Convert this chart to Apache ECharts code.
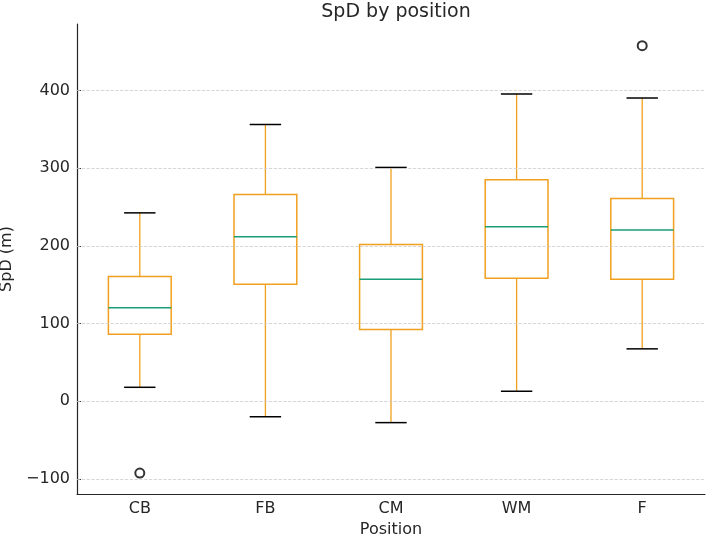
<!DOCTYPE html>
<html>
<head>
<meta charset="utf-8">
<script src="https://cdn.jsdelivr.net/npm/echarts@6/dist/echarts.min.js"></script>
<style>
  html, body { margin: 0; padding: 0; background: #fff; }
  #main { width: 709px; height: 536px; }
</style>
</head>
<body>
<div id="main"></div>
<script>
// data
var positions = ['CB', 'FB', 'CM', 'WM', 'F'];
var whiskerLow = [18, -20, -27.5, 13, 67.5];
var q1 = [86.3, 150.8, 92.4, 158.5, 157.2];
var median = [120.3, 211.7, 157.2, 224.6, 220.4];
var q3 = [160.7, 266.4, 201.9, 285.2, 261.2];
var whiskerHigh = [242.6, 356.5, 301.1, 395.6, 390.5];
var outliers = [['CB', -92.4], ['F', 457.9]];
var yTicks = [-100, 0, 100, 200, 300, 400];

var boxColor = '#F0A01E';
var medColor = '#1B9E77';
var txtColor = '#262626';

var chart = echarts.init(document.getElementById('main'));

var boxData = positions.map(function (p, i) {
  return [i, whiskerLow[i], q1[i], median[i], q3[i], whiskerHigh[i]];
});

function renderBox(params, api) {
  var i = api.value(0);
  var lo = api.coord([i, api.value(1)]);
  var b1 = api.coord([i, api.value(2)]);
  var md = api.coord([i, api.value(3)]);
  var b3 = api.coord([i, api.value(4)]);
  var hi = api.coord([i, api.value(5)]);
  var band = api.size([1, 0])[0];
  var hw = band * 0.25;   // half box width
  var cw = band * 0.125;  // half cap width
  var x = lo[0];
  return {
    type: 'group',
    children: [
      { type: 'line', shape: { x1: x, y1: b1[1], x2: x, y2: lo[1] }, style: { stroke: boxColor, lineWidth: 1.3 } },
      { type: 'line', shape: { x1: x, y1: b3[1], x2: x, y2: hi[1] }, style: { stroke: boxColor, lineWidth: 1.3 } },
      { type: 'line', shape: { x1: x - cw, y1: lo[1], x2: x + cw, y2: lo[1] }, style: { stroke: '#000', lineWidth: 1.5 } },
      { type: 'line', shape: { x1: x - cw, y1: hi[1], x2: x + cw, y2: hi[1] }, style: { stroke: '#000', lineWidth: 1.5 } },
      { type: 'rect', shape: { x: x - hw, y: b3[1], width: hw * 2, height: b1[1] - b3[1] }, style: { fill: 'none', stroke: boxColor, lineWidth: 1.5 } },
      { type: 'line', shape: { x1: x - hw, y1: md[1], x2: x + hw, y2: md[1] }, style: { stroke: medColor, lineWidth: 1.5 } }
    ]
  };
}

var option = {
  animation: false,
  backgroundColor: '#fff',
  textStyle: { fontFamily: 'DejaVu Sans' },
  title: {
    text: 'SpD by position',
    left: 391,
    top: -2,
    textAlign: 'center',
    textStyle: { fontSize: 19, fontWeight: 'normal', color: txtColor, fontFamily: 'DejaVu Sans' }
  },
  grid: { left: 77, right: 4, top: 24, bottom: 42, containLabel: false, outerBoundsMode: 'none' },
  xAxis: {
    type: 'category',
    data: positions,
    boundaryGap: true,
    name: 'Position',
    nameLocation: 'middle',
    nameGap: 27,
    nameTextStyle: { fontSize: 16, color: txtColor },
    axisLine: { onZero: false, lineStyle: { color: txtColor, width: 1.2 } },
    axisTick: { alignWithLabel: true, inside: true, length: 4, lineStyle: { color: txtColor } },
    axisLabel: { fontSize: 16, color: txtColor, margin: 7 },
    splitLine: { show: false }
  },
  yAxis: {
    type: 'value',
    min: -119.4,
    max: 485.8,
    name: 'SpD (m)',
    nameLocation: 'middle',
    nameGap: 59,
    nameTextStyle: { fontSize: 16, color: txtColor },
    axisLine: { show: true, onZero: false, lineStyle: { color: txtColor, width: 1.2 } },
    axisTick: { show: true, inside: true, length: 4, lineStyle: { color: txtColor }, customValues: yTicks },
    axisLabel: {
      fontSize: 16, color: txtColor, margin: 7, customValues: yTicks,
      formatter: function (v) { return String(v).replace('-', '\u2212'); }
    },
    splitLine: { show: false }
  },
  series: [
    {
      type: 'line',
      data: [],
      markLine: {
        silent: true,
        symbol: 'none',
        label: { show: false },
        lineStyle: { color: '#cccccc', type: 'dashed', width: 0.8 },
        data: yTicks.map(function (t) { return { yAxis: t }; })
      }
    },
    {
      type: 'custom',
      renderItem: renderBox,
      encode: { x: 0, y: [1, 2, 3, 4, 5] },
      data: boxData,
      z: 3
    },
    {
      type: 'scatter',
      data: outliers,
      symbol: 'emptyCircle',
      symbolSize: 9,
      itemStyle: { color: '#000', borderColor: '#000', borderWidth: 1.3 },
      z: 4
    }
  ]
};

chart.setOption(option);
</script>
</body>
</html>
